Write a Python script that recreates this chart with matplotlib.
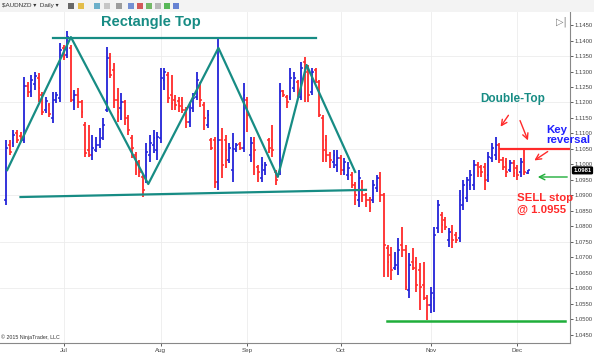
import numpy as np
import matplotlib.pyplot as plt
from matplotlib.patches import Rectangle

plt.rcParams['font.family'] = ['Liberation Sans', 'DejaVu Sans']

# AUDNZD daily bars, mid-June to early Dec 2015
opens = [1.0885, 1.1063, 1.1069, 1.1102, 1.1092, 1.1079, 1.1253, 1.1237, 1.1260, 1.1279,
         1.1224, 1.1176, 1.1192, 1.1150, 1.1208, 1.1215, 1.1376, 1.1353, 1.1376, 1.1208,
         1.1224, 1.1202, 1.1127, 1.1047, 1.1031, 1.1047, 1.1063, 1.1085, 1.1176, 1.1344,
         1.1305, 1.1208, 1.1182, 1.1202, 1.1150, 1.1085, 1.1031, 1.1008, 1.0960, 1.0956,
         1.1031, 1.1063, 1.1047, 1.1085, 1.1273, 1.1289, 1.1224, 1.1208, 1.1205, 1.1208,
         1.1176, 1.1137, 1.1182, 1.1218, 1.1256, 1.1192, 1.1127, 1.1079, 1.1079, 1.0944,
         1.1079, 1.1079, 1.1015, 1.0982, 1.1047, 1.1066, 1.1053, 1.1208, 1.1031, 1.1079,
         1.0992, 1.0956, 1.0982, 1.1079, 1.1079, 1.0976, 1.0976, 1.1237, 1.1218, 1.1218,
         1.1247, 1.1266, 1.1218, 1.1331, 1.1305, 1.1234, 1.1305, 1.1266, 1.1150, 1.1079,
         1.1031, 1.1008, 1.0998, 1.1021, 1.0982, 1.0966, 1.0966, 1.0934, 1.0885, 1.0944,
         1.0902, 1.0885, 1.0885, 1.0924, 1.0956, 1.0902, 1.0731, 1.0708, 1.0666, 1.0666,
         1.0740, 1.0724, 1.0595, 1.0685, 1.0685, 1.0660, 1.0611, 1.0569, 1.0547, 1.0569,
         1.0795, 1.0837, 1.0821, 1.0756, 1.0789, 1.0773, 1.0763, 1.0869, 1.0892, 1.0934,
         1.0934, 1.0998, 1.0992, 1.0992, 1.0966, 1.1021, 1.1031, 1.1063, 1.1015, 1.1008,
         1.0982, 1.1005, 1.0989, 1.0976, 1.1015, 1.0973]
highs = [1.1079, 1.1079, 1.1111, 1.1111, 1.1105, 1.1282, 1.1266, 1.1289, 1.1298, 1.1295,
         1.1234, 1.1218, 1.1198, 1.1234, 1.1234, 1.1392, 1.1385, 1.1431, 1.1385, 1.1240,
         1.1247, 1.1208, 1.1137, 1.1127, 1.1095, 1.1089, 1.1118, 1.1150, 1.1379, 1.1360,
         1.1327, 1.1247, 1.1231, 1.1208, 1.1160, 1.1095, 1.1040, 1.1015, 1.0966, 1.1069,
         1.1095, 1.1111, 1.1105, 1.1311, 1.1311, 1.1298, 1.1289, 1.1224, 1.1218, 1.1218,
         1.1185, 1.1202, 1.1231, 1.1298, 1.1266, 1.1202, 1.1176, 1.1085, 1.1089, 1.1411,
         1.1118, 1.1095, 1.1069, 1.1102, 1.1069, 1.1073, 1.1263, 1.1218, 1.1089, 1.1089,
         1.0998, 1.1024, 1.1008, 1.1085, 1.1127, 1.0982, 1.1263, 1.1240, 1.1224, 1.1311,
         1.1298, 1.1273, 1.1331, 1.1347, 1.1321, 1.1311, 1.1311, 1.1273, 1.1160, 1.1095,
         1.1040, 1.1047, 1.1047, 1.1031, 1.1021, 1.1008, 1.0976, 1.0944, 1.0982, 1.0950,
         1.0908, 1.0895, 1.0950, 1.0966, 1.0976, 1.0908, 1.0740, 1.0734, 1.0718, 1.0763,
         1.0798, 1.0740, 1.0715, 1.0731, 1.0702, 1.0682, 1.0685, 1.0579, 1.0605, 1.0798,
         1.0885, 1.0847, 1.0831, 1.0795, 1.0805, 1.0782, 1.0918, 1.0950, 1.0960, 1.0982,
         1.1015, 1.1008, 1.0998, 1.1005, 1.1040, 1.1069, 1.1089, 1.1069, 1.1024, 1.1021,
         1.1015, 1.1015, 1.0998, 1.1021, 1.1050, 1.0982]
lows = [1.0869, 1.1031, 1.1056, 1.1069, 1.1073, 1.1069, 1.1218, 1.1218, 1.1240, 1.1202,
        1.1160, 1.1166, 1.1153, 1.1134, 1.1198, 1.1202, 1.1337, 1.1344, 1.1202, 1.1176,
        1.1182, 1.1150, 1.1024, 1.1024, 1.1015, 1.1040, 1.1053, 1.1079, 1.1169, 1.1279,
        1.1182, 1.1137, 1.1144, 1.1127, 1.1095, 1.1021, 1.0966, 1.0960, 1.0895, 1.0940,
        1.1008, 1.1037, 1.1015, 1.1069, 1.1240, 1.1198, 1.1176, 1.1176, 1.1169, 1.1166,
        1.1118, 1.1121, 1.1169, 1.1208, 1.1185, 1.1111, 1.1118, 1.1047, 1.0924, 1.0918,
        1.0956, 1.0989, 1.1005, 1.0944, 1.1040, 1.1047, 1.1040, 1.1105, 1.1008, 1.0966,
        1.0944, 1.0944, 1.0966, 1.1037, 1.1024, 1.0934, 1.0966, 1.1218, 1.1182, 1.1208,
        1.1234, 1.1218, 1.1208, 1.1202, 1.1202, 1.1224, 1.1263, 1.1153, 1.1008, 1.1008,
        1.0989, 1.0989, 1.0976, 1.0966, 1.0966, 1.0950, 1.0924, 1.0869, 1.0863, 1.0879,
        1.0863, 1.0847, 1.0876, 1.0911, 1.0879, 1.0637, 1.0637, 1.0627, 1.0660, 1.0644,
        1.0702, 1.0595, 1.0569, 1.0660, 1.0589, 1.0531, 1.0563, 1.0497, 1.0521, 1.0524,
        1.0779, 1.0779, 1.0789, 1.0734, 1.0731, 1.0747, 1.0750, 1.0853, 1.0879, 1.0918,
        1.0918, 1.0960, 1.0960, 1.0918, 1.0944, 1.1008, 1.1015, 1.1005, 1.0982, 1.0960,
        1.0976, 1.0960, 1.0950, 1.0960, 1.0966, 1.0969]
closes = [1.1053, 1.1040, 1.1095, 1.1079, 1.1079, 1.1253, 1.1234, 1.1273, 1.1285, 1.1247,
          1.1169, 1.1205, 1.1163, 1.1208, 1.1224, 1.1369, 1.1347, 1.1411, 1.1208, 1.1224,
          1.1202, 1.1169, 1.1037, 1.1031, 1.1053, 1.1063, 1.1079, 1.1127, 1.1344, 1.1289,
          1.1208, 1.1169, 1.1202, 1.1150, 1.1111, 1.1053, 1.0998, 1.0976, 1.0918, 1.1040,
          1.1069, 1.1085, 1.1089, 1.1279, 1.1298, 1.1215, 1.1198, 1.1192, 1.1189, 1.1176,
          1.1137, 1.1176, 1.1215, 1.1273, 1.1208, 1.1150, 1.1160, 1.1053, 1.0944, 1.1079,
          1.0998, 1.1047, 1.1053, 1.1050, 1.1063, 1.1053, 1.1224, 1.1160, 1.1069, 1.1047,
          1.0976, 1.0998, 1.0998, 1.1053, 1.1047, 1.0950, 1.1234, 1.1224, 1.1202, 1.1279,
          1.1279, 1.1231, 1.1311, 1.1298, 1.1224, 1.1298, 1.1273, 1.1160, 1.1047, 1.1031,
          1.1015, 1.1031, 1.1021, 1.0982, 1.1008, 1.0989, 1.0934, 1.0902, 1.0956, 1.0902,
          1.0885, 1.0860, 1.0934, 1.0956, 1.0902, 1.0740, 1.0685, 1.0660, 1.0676, 1.0724,
          1.0724, 1.0605, 1.0676, 1.0666, 1.0611, 1.0605, 1.0569, 1.0547, 1.0585, 1.0773,
          1.0869, 1.0805, 1.0798, 1.0782, 1.0756, 1.0756, 1.0885, 1.0934, 1.0950, 1.0966,
          1.0998, 1.0976, 1.0976, 1.0950, 1.1024, 1.1053, 1.1063, 1.1015, 1.0992, 1.0976,
          1.1005, 1.0973, 1.0966, 1.1008, 1.0976, 1.0981]

month_labels = ["Jul", "Aug", "Sep", "Oct", "Nov", "Dec"]
month_pos = [16, 43, 67, 93, 118, 142]

# hand-drawn pattern lines (bar index, price)
zigzag_x = [0.3, 18, 39.5, 59, 75.5, 83.5, 97]
zigzag_y = [1.0982, 1.1411, 1.0937, 1.1376, 1.0960, 1.1321, 1.0976]
rect_top_x, rect_top_y = [13, 86], [1.1408, 1.1408]
rect_bot_x, rect_bot_y = [4, 100], [1.0895, 1.0918]
support_x, support_y = [105.8, 155.3], [1.0495, 1.0495]
key_x, key_y = [137.2, 156.5], [1.1050, 1.1050]

W, H = 594, 353
BLUE, RED, TEAL, GREEN = "#2323d8", "#ff2a2a", "#178c84", "#1fae3a"

def px(x, y):
    return (x / W, 1 - y / H)

fig = plt.figure(figsize=(W / 100, H / 100), dpi=100)
ax = fig.add_axes([0, 10 / H, 570 / W, (343 - 12) / H])

x = np.arange(len(opens))
o, h, l, c = map(np.array, (opens, highs, lows, closes))
cols = np.where(c >= o, BLUE, RED)
ax.vlines(x, l, h, colors=cols, lw=1.3)
ax.hlines(o, x - 0.5, x, colors=cols, lw=1.1)
ax.hlines(c, x, x + 0.5, colors=cols, lw=1.1)

ax.plot(zigzag_x, zigzag_y, color=TEAL, lw=1.6)
ax.plot(rect_top_x, rect_top_y, color=TEAL, lw=1.6)
ax.plot(rect_bot_x, rect_bot_y, color=TEAL, lw=1.6)
ax.plot(support_x, support_y, color=GREEN, lw=1.8)
ax.plot(key_x, key_y, color=RED, lw=1.6)

ax.set_xlim(-1.7, 156.7)
ax.set_ylim(1.0424, 1.1492)
for lev in np.arange(1.0600, 1.14, 0.015):
    ax.axhline(lev, color="#ececec", lw=0.6, zorder=0)
ax.set_xticks(month_pos)
ax.set_xticklabels(month_labels)
ax.grid(axis="x", color="#ececec", lw=0.6, zorder=0)
ax.set_axisbelow(True)
ax.set_yticks(np.arange(1.0450, 1.1451, 0.005))
ax.yaxis.set_major_formatter(plt.FormatStrFormatter("%.4f"))
ax.yaxis.tick_right()
ax.tick_params(axis="y", labelsize=4.2, length=2, width=0.6, pad=1.2, colors="#444444")
ax.tick_params(axis="x", labelsize=4.5, length=2.5, width=0.6, pad=1, colors="#444444")
for s in ("left", "top"):
    ax.spines[s].set_visible(False)
for s in ("right", "bottom"):
    ax.spines[s].set_color("#888888")
    ax.spines[s].set_linewidth(0.8)

# last price box
ax.annotate(f"{closes[-1]:.4f}", xy=(1.006, closes[-1]), xycoords=("axes fraction", "data"),
            ha="left", va="center", fontsize=4.2, color="white", fontweight="bold",
            bbox=dict(boxstyle="round,pad=0.15", fc="black", ec="black"), annotation_clip=False)

# toolbar
fig.patches.append(Rectangle((0, 1 - 12 / H), 1, 12 / H, transform=fig.transFigure,
                             fc="#f3f3f3", ec="none"))
fig.text(*px(2, 6), "$AUDNZD ▾  Daily ▾", fontsize=4.5, va="center", color="#333333")
for xi, col in [(68, "#444444"), (78, "#e0b020"), (94, "#4aa0c0"), (104, "#bbbbbb"),
                (116, "#888888"), (128, "#5577cc"), (137, "#cc3333"), (146, "#55aa44"),
                (155, "#aaaaaa"), (164, "#33aa33"), (173, "#4466cc")]:
    fig.patches.append(Rectangle(px(xi, 9), 6 / W, 6 / H, transform=fig.transFigure,
                                 fc=col, ec="none", alpha=0.8))
fig.text(*px(561, 22), "▷|", fontsize=7, va="center", ha="center", color="#777777",
         family=["DejaVu Sans"])

fig.text(*px(1, 337), "© 2015 NinjaTrader, LLC", fontsize=3.8, va="center", color="#333333")

bold = dict(fontweight="bold")
fig.text(*px(151, 22), "Rectangle Top", color=TEAL, fontsize=10.5, ha="center", va="center", **bold)
fig.text(*px(513, 99), "Double-Top", color=TEAL, fontsize=8.5, ha="center", va="center", **bold)
fig.text(*px(546, 135), "Key\nreversal", color="#2020ff", fontsize=8.2, ha="left", va="center",
         linespacing=1.0, **bold)
fig.text(*px(517, 204), "SELL stop\n@ 1.0955", color=RED, fontsize=8.2, ha="left", va="center",
         linespacing=1.15, **bold)

arr_red = dict(arrowstyle="->", color=RED, lw=1.0)
for (x0, y0, x1, y1) in [(510, 113, 499, 129), (519, 118, 529, 143), (550, 150, 532, 162)]:
    ax.annotate("", xy=px(x1, y1), xytext=px(x0, y0), xycoords="figure fraction",
                textcoords="figure fraction", arrowprops=arr_red)
ax.annotate("", xy=px(535, 177), xytext=px(570, 177), xycoords="figure fraction",
            textcoords="figure fraction", arrowprops=dict(arrowstyle="->", color=GREEN, lw=1.0))

fig.savefig("out.png", dpi=100)
